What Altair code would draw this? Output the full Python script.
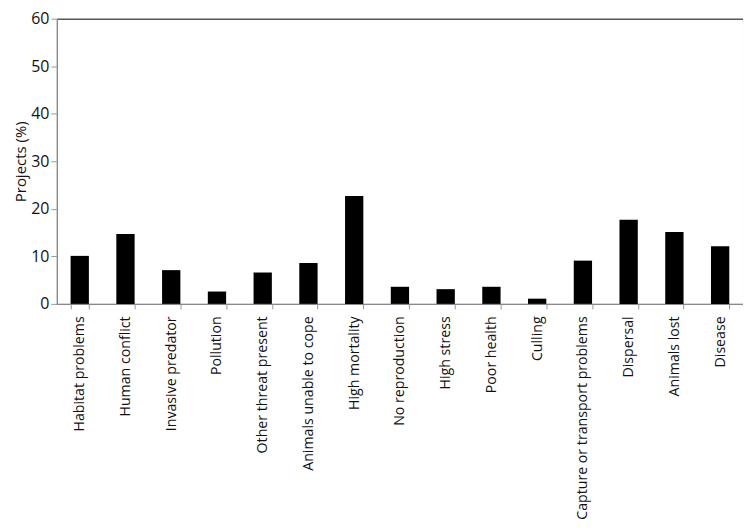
import altair as alt
import pandas as pd

categories = ["Habitat problems", "Human conflict", "Invasive predator", "Pollution",
              "Other threat present", "Animals unable to cope", "High mortality",
              "No reproduction", "High stress", "Poor health", "Culling",
              "Capture or transport problems", "Dispersal", "Animals lost", "Disease"]
values = [10.1, 14.7, 7.1, 2.6, 6.6, 8.6, 22.7, 3.6, 3.1, 3.6, 1.1, 9.1, 17.7, 15.1, 12.1]
y_ticks = [0, 10, 20, 30, 40, 50, 60]

df = pd.DataFrame({"cat": categories, "val": values})
FONT = "Open Sans"

chart = alt.Chart(df).mark_bar(color="black").encode(
    x=alt.X("cat:N", sort=categories,
            scale=alt.Scale(paddingInner=0.6, paddingOuter=0.3),
            axis=alt.Axis(title=None, labelAngle=-90, labelAlign="right",
                          labelBaseline="middle", labelPadding=7, tickBand="extent",
                          tickSize=5, tickColor="#999999", domainColor="#999999",
                          labelFont=FONT, labelFontSize=14.2, labelColor="#111111",
                          labelLimit=300)),
    y=alt.Y("val:Q", scale=alt.Scale(domain=[0, 60]),
            axis=alt.Axis(title="Projects (%)", values=y_ticks, grid=False,
                          tickSize=6, tickColor="#999999", domainColor="#999999",
                          labelFont=FONT, labelFontSize=16, labelColor="#111111",
                          labelPadding=2, titleFont=FONT, titleFontSize=15,
                          titleFontWeight="normal", titleColor="#111111",
                          titlePadding=2)),
).properties(
    width=688, height=286,
    autosize=alt.AutoSizeParams(type="none"),
    padding={"left": 49, "top": 10, "right": 0, "bottom": 216},
).configure_view(stroke="black", strokeWidth=1)

chart.save("out.html", embed_options={"renderer": "svg", "actions": False})
